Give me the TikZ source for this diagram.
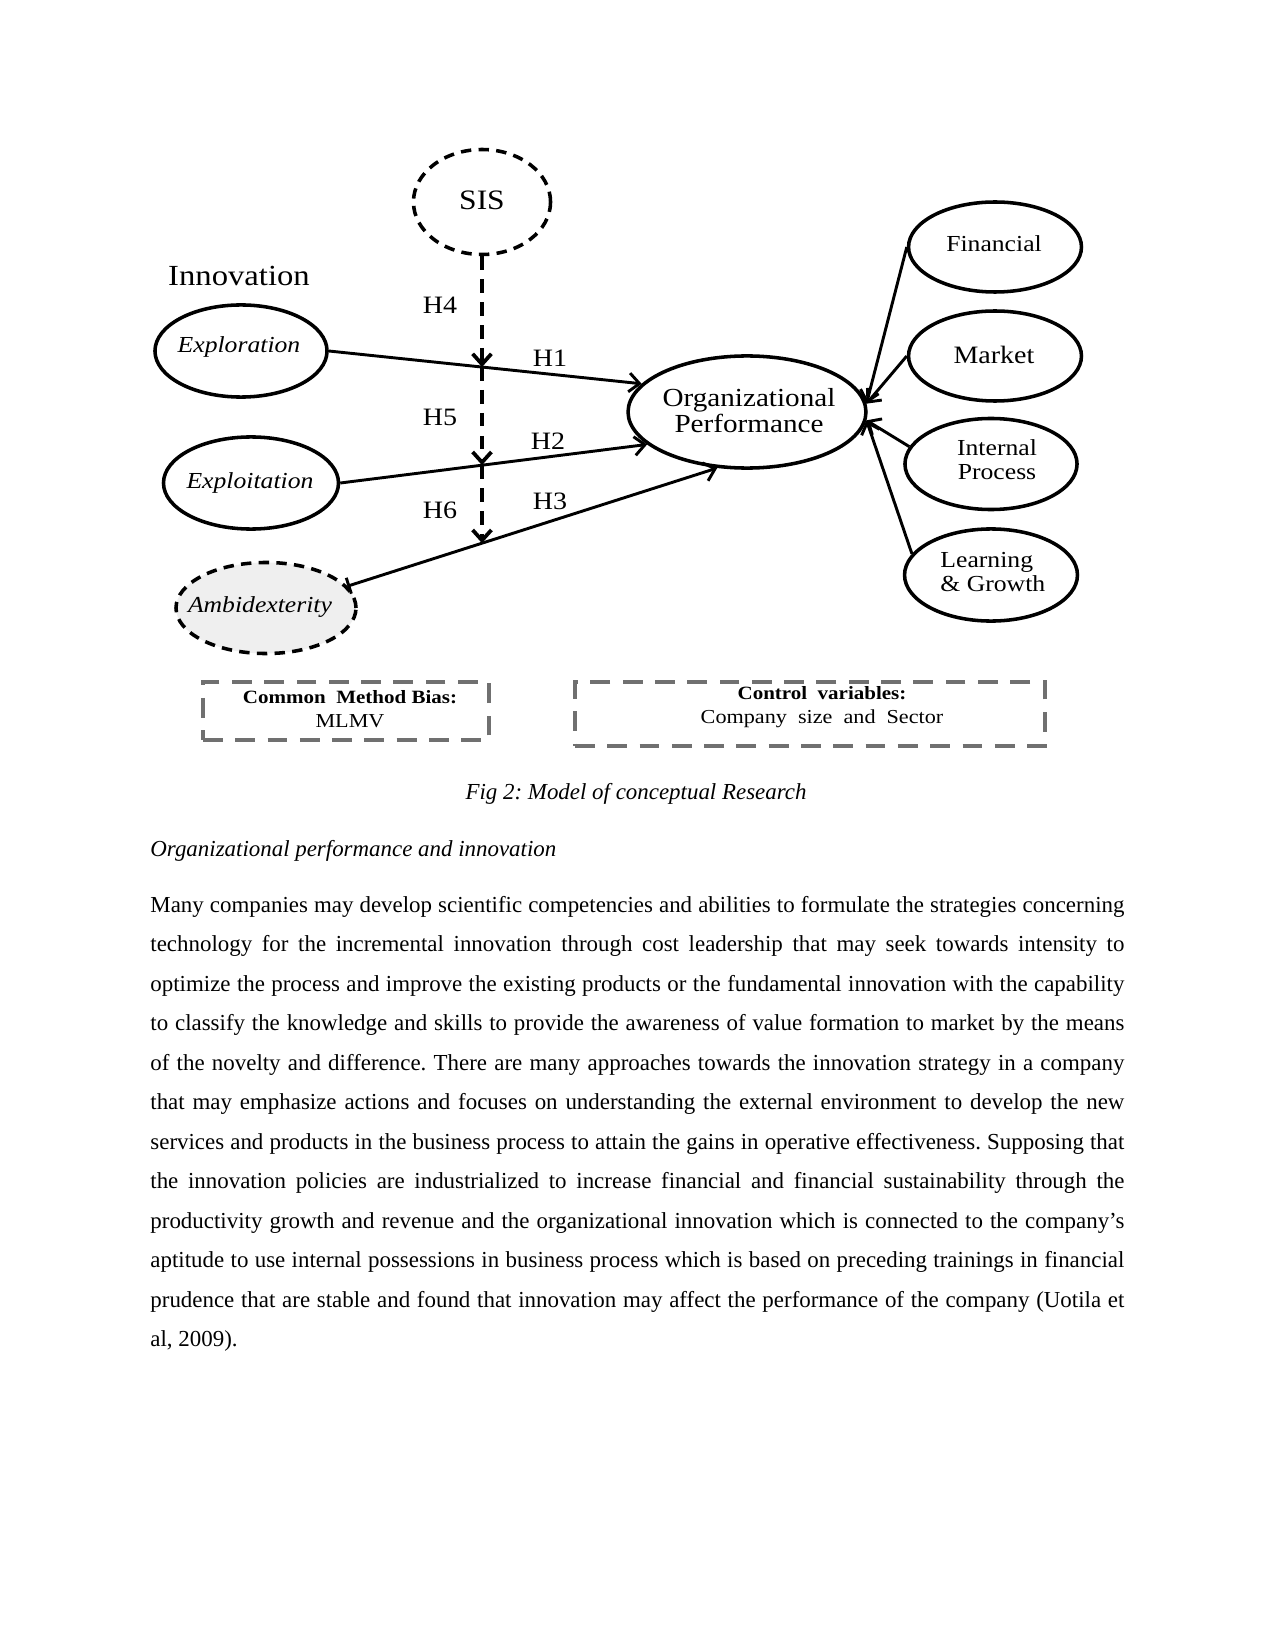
\documentclass[tikz,border=0pt]{standalone}
\usepackage{fontspec}
\setmainfont{Liberation Serif}
\newfontfamily\dg[FakeStretch=1.12]{Liberation Serif}
\usetikzlibrary{shapes.geometric,arrows.meta,intersections}
\definecolor{boxgray}{RGB}{112,112,112}
\definecolor{ambfill}{RGB}{239,239,239}
\frenchspacing
\begin{document}
\begin{tikzpicture}[x=0.48pt,y=-0.48pt,
  lat/.style={ellipse, draw, line width=1.7pt, inner sep=0pt},
  dl/.style={font=\dg\fontsize{#1}{#1}\selectfont, inner sep=0pt, align=center},
  arr/.style={line width=1.4pt, -{Straight Barb[length=5pt,width=9pt]}},
  modarr/.style={line width=1.8pt, dash pattern=on 6.5pt off 4.5pt, -{Straight Barb[length=5pt,width=9pt]}},
  cbox/.style={draw=boxgray, line width=1.6pt, dash pattern=on 9.5pt off 6pt, inner sep=0pt},
  body/.style={font=\fontsize{11}{13}\selectfont, inner sep=0pt}]
\useasboundingbox (0,0) rectangle (1275,1650);
\fill[white] (0,0) rectangle (1275,1650);

% latent variables
\node[lat, dash pattern=on 5pt off 3.5pt, minimum width=65.8pt, minimum height=50.4pt] (sis) at (482,202) {};
\node[dl=13.5] (sist) at (482,200) {SIS};
\node[dl=14] (innov) at (239,276) {Innovation};
\node[lat, minimum width=82.6pt, minimum height=44.2pt] (e1) at (241,351) {};
\node[dl=11] (e1t) at (239,347) {\itshape Exploration};
\node[lat, minimum width=84pt, minimum height=44.2pt] (e2) at (251,483) {};
\node[dl=11] (e2t) at (250,483) {\itshape Exploitation};
\node[lat, fill=ambfill, dash pattern=on 5pt off 3.5pt, minimum width=86.4pt, minimum height=43.7pt] (amb) at (266,608) {};
\node[dl=11] (ambt) at (260,607) {\itshape Ambidexterity};
\node[lat, minimum width=114.2pt, minimum height=53.8pt] (op) at (747,412) {};
\node[dl=12.5] (opt) at (749,411) {Organizational\\[0pt]Performance};
\node[lat, minimum width=83pt, minimum height=43.2pt] (fin) at (995,247) {};
\node[dl=11] (fint) at (994,244) {Financial};
\node[lat, minimum width=83pt, minimum height=43.2pt] (mkt) at (995,356) {};
\node[dl=12] (mktt) at (994,355) {Market};
\node[lat, minimum width=82.6pt, minimum height=43.7pt] (int) at (991,464) {};
\node[dl=11, font=\dg\fontsize{11}{11.5}\selectfont] (intt) at (997,460) {Internal\\Process};
\node[lat, minimum width=83pt, minimum height=44.2pt] (lrn) at (991,575) {};
\node[dl=11, font=\dg\fontsize{11}{11.5}\selectfont, align=left, anchor=west] (lrnt) at (940,572) {Learning\\\& Growth};

% hypothesis paths
\draw[arr, name path=h1] (e1.east) -- (op.165);
\draw[arr, name path=h2] (e2.east) -- (op.198);
\draw[line width=1.4pt, {Bar[width=8pt]}-{Straight Barb[length=5pt,width=9pt]}, name path=h3] (amb.15) -- (op.242);
\path[name path=vline] (sis.south) -- ++(0,450);
\path[name intersections={of=vline and h1, by=i1}];
\path[name intersections={of=vline and h2, by=i2}];
\path[name intersections={of=vline and h3, by=i3}];
\draw[modarr] (sis.south) -- (i1);
\draw[modarr] (i1) -- (i2);
\draw[modarr] (i2) -- (i3);

\node[dl=12] (lh4) at (440,305) {H4};
\node[dl=12] (lh1) at (550,358) {H1};
\node[dl=12] (lh5) at (440,417) {H5};
\node[dl=12] (lh2) at (548,441) {H2};
\node[dl=12] (lh6) at (440,510) {H6};
\node[dl=12] (lh3) at (550,501) {H3};

% dimensions of performance
\draw[arr] (fin.west) -- (op.4);
\draw[arr] (mkt.west) -- (op.4);
\draw[arr] (int.168) -- (op.-4);
\draw[arr] (lrn.165) -- (op.-4);

% boxes
\node[cbox, minimum width=137.3pt, minimum height=27.8pt] (cmb) at (346,711) {};
\node[dl=9.5, font=\dg\fontsize{9.5}{11.5}\selectfont] (cmbt) at (350,709) {{\bfseries\fontsize{9}{11.5}\selectfont Common\ \ Method Bias:}\\MLMV};
\node[cbox, minimum width=225.6pt, minimum height=30.7pt] (ctl) at (810,714) {};
\node[dl=9.5, font=\dg\fontsize{9.5}{11.5}\selectfont] (ctlt) at (822,707) {{\bfseries\fontsize{9}{11.5}\selectfont Control\ \ variables:}\\Company\ \ size\ \ and\ \ Sector};

% page text
\node[body, anchor=base] (cap) at (636,799) {\itshape Fig 2: Model of conceptual Research};
\node[body, anchor=base west] (head) at (150,856) {\itshape Organizational performance and innovation};
\node[anchor=base west, inner sep=0pt, text width=467.5pt, align=justify, font=\fontsize{11}{18.97}\selectfont] (para) at (150,912) {\frenchspacing\hyphenpenalty=10000\tolerance=9999\emergencystretch=0pt
Many companies may develop scientific competencies and abilities to formulate the strategies concerning\linebreak
technology for the incremental innovation through cost leadership that may seek towards intensity to\linebreak
optimize the process and improve the existing products or the fundamental innovation with the capability\linebreak
to classify the knowledge and skills to provide the awareness of value formation to market by the means\linebreak
of the novelty and difference. There are many approaches towards the innovation strategy in a company\linebreak
that may emphasize actions and focuses on understanding the external environment to develop the new\linebreak
services and products in the business process to attain the gains in operative effectiveness. Supposing that\linebreak
the innovation policies are industrialized to increase financial and financial sustainability through the\linebreak
productivity growth and revenue and the organizational innovation which is connected to the company’s\linebreak
aptitude to use internal possessions in business process which is based on preceding trainings in financial\linebreak
prudence that are stable and found that innovation may affect the performance of the company (Uotila et\linebreak
al, 2009).};
\end{tikzpicture}
\end{document}
